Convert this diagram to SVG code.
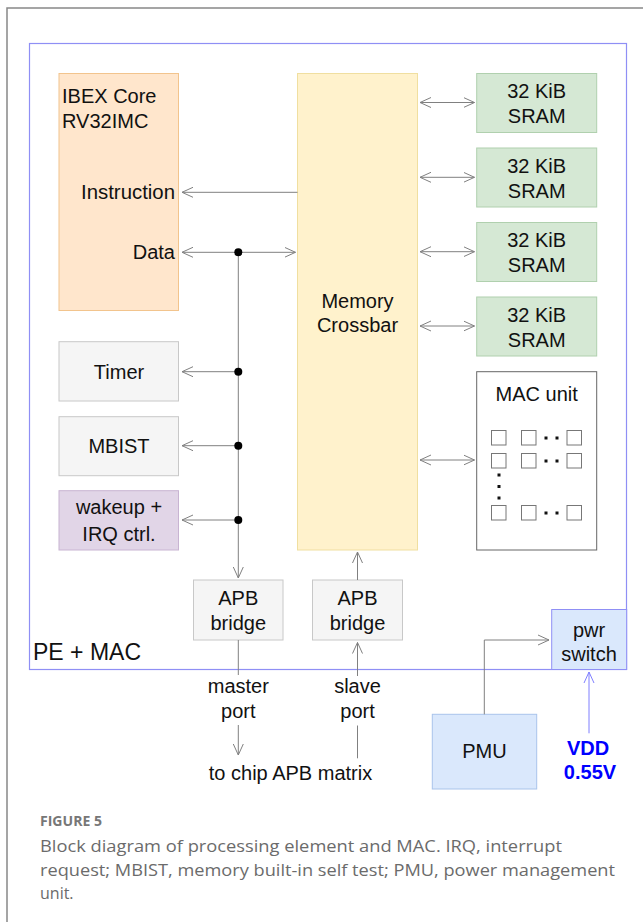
<svg xmlns="http://www.w3.org/2000/svg" width="643" height="922" viewBox="0 0 643 922">
<style>
text{font-family:"Liberation Sans",Arial,sans-serif;font-size:20px;fill:#111}
.c{text-anchor:middle}
.r{text-anchor:end}
.ln{stroke:#808080;stroke-width:1;fill:none}
.bl{stroke:#7f7fff;stroke-width:1;fill:none}
.cap{font-family:"Open Sans","Liberation Sans",sans-serif;font-size:16px;fill:#6b6b6b}
.sq{fill:#fff;stroke:#777;stroke-width:1}
</style>
<defs>
<marker id="a" markerUnits="userSpaceOnUse" markerWidth="14" markerHeight="14" refX="11" refY="6" orient="auto-start-reverse" viewBox="0 0 14 12">
<path d="M0,1 L11,6 L0,11" fill="none" stroke="#808080" stroke-width="1"/>
</marker>
<marker id="ab" markerUnits="userSpaceOnUse" markerWidth="14" markerHeight="14" refX="11" refY="6" orient="auto-start-reverse" viewBox="0 0 14 12">
<path d="M0,1 L11,6 L0,11" fill="none" stroke="#7f7fff" stroke-width="1"/>
</marker>
</defs>
<rect width="643" height="922" fill="#fff"/>
<rect x="7" y="8" width="700" height="1000" fill="none" stroke="#888" stroke-width="1.5"/>
<g id="pe-mac">
<rect x="29.5" y="43.5" width="597" height="626" fill="none" stroke="#8f8ff5" stroke-width="1.2"/>
<text x="33" y="660" style="font-size:23px">PE + MAC</text>
</g>
<g id="ibex">
<rect x="59" y="73.5" width="119.5" height="237" fill="#ffe6cc" stroke="#f2c48d"/>
<text x="62" y="103">IBEX Core</text>
<text x="62" y="128">RV32IMC</text>
<text x="175" y="199" class="r" textLength="94" lengthAdjust="spacingAndGlyphs">Instruction</text>
<text x="175" y="259" class="r">Data</text>
</g>
<g id="crossbar">
<rect x="297.5" y="73.5" width="120" height="476.5" fill="#fff2cc" stroke="#f0dfa0"/>
<text x="357.5" y="308" class="c">Memory</text>
<text x="357.5" y="332" class="c">Crossbar</text>
</g>
<g id="sram1"><rect x="476.7" y="73.5" width="120" height="59" fill="#d5e8d4" stroke="#b0d0ae"/><text x="536.7" y="98" class="c">32 KiB</text><text x="536.7" y="123" class="c">SRAM</text></g>
<g id="sram2"><rect x="476.7" y="148" width="120" height="59" fill="#d5e8d4" stroke="#b0d0ae"/><text x="536.7" y="172.5" class="c">32 KiB</text><text x="536.7" y="197.5" class="c">SRAM</text></g>
<g id="sram3"><rect x="476.7" y="222.5" width="120" height="59" fill="#d5e8d4" stroke="#b0d0ae"/><text x="536.7" y="247" class="c">32 KiB</text><text x="536.7" y="272" class="c">SRAM</text></g>
<g id="sram4"><rect x="476.7" y="297" width="120" height="59" fill="#d5e8d4" stroke="#b0d0ae"/><text x="536.7" y="321.5" class="c">32 KiB</text><text x="536.7" y="346.5" class="c">SRAM</text></g>
<g id="timer"><rect x="59" y="341.7" width="119.5" height="59.3" fill="#f5f5f5" stroke="#c8c8c8"/><text x="119" y="379" class="c">Timer</text></g>
<g id="mbist"><rect x="59" y="416.7" width="119.5" height="59" fill="#f5f5f5" stroke="#c8c8c8"/><text x="119" y="453" class="c">MBIST</text></g>
<g id="wakeup"><rect x="59" y="490.7" width="119.5" height="59.3" fill="#e1d5e7" stroke="#c8b4d2"/><text x="119" y="514" class="c">wakeup +</text><text x="119" y="540.5" class="c">IRQ ctrl.</text></g>
<g id="mac">
<rect x="476.7" y="371.7" width="120" height="178.3" fill="#fff" stroke="#666"/>
<text x="536.7" y="400.5" class="c">MAC unit</text>
<rect class="sq" x="491.5" y="430.5" width="14.5" height="14.5"/><rect class="sq" x="521.5" y="430.5" width="14.5" height="14.5"/><rect class="sq" x="567" y="430.5" width="14.5" height="14.5"/>
<rect class="sq" x="491.5" y="453.5" width="14.5" height="14.5"/><rect class="sq" x="521.5" y="453.5" width="14.5" height="14.5"/><rect class="sq" x="567" y="453.5" width="14.5" height="14.5"/>
<rect class="sq" x="491.5" y="505.5" width="14.5" height="14.5"/><rect class="sq" x="521.5" y="505.5" width="14.5" height="14.5"/><rect class="sq" x="567" y="505.5" width="14.5" height="14.5"/>
<g fill="#111">
<rect x="544.5" y="436.5" width="3" height="3"/><rect x="555.5" y="436.5" width="3" height="3"/>
<rect x="544.5" y="459.5" width="3" height="3"/><rect x="555.5" y="459.5" width="3" height="3"/>
<rect x="544.5" y="511.5" width="3" height="3"/><rect x="555.5" y="511.5" width="3" height="3"/>
<rect x="497.5" y="473.5" width="3" height="3"/><rect x="497.5" y="485" width="3" height="3"/><rect x="497.5" y="496.5" width="3" height="3"/>
</g>
</g>
<g id="apb1"><rect x="193.5" y="580" width="89.5" height="60" fill="#f5f5f5" stroke="#c8c8c8"/><text x="238.3" y="605" class="c">APB</text><text x="238.3" y="630" class="c">bridge</text></g>
<g id="apb2"><rect x="312.5" y="580" width="90" height="60" fill="#f5f5f5" stroke="#c8c8c8"/><text x="357.5" y="605" class="c">APB</text><text x="357.5" y="630" class="c">bridge</text></g>
<g id="pwr"><rect x="551.7" y="609.5" width="75" height="60" fill="#dae8fc" stroke="#8f8ff5"/><text x="589" y="636.5" class="c">pwr</text><text x="589" y="660.5" class="c">switch</text></g>
<g id="pmu"><rect x="432.3" y="714.3" width="104.4" height="74.7" fill="#dae8fc" stroke="#a9c4eb"/><text x="484.5" y="758" class="c">PMU</text></g>
<g id="labels">
<text x="238.3" y="693" class="c">master</text><text x="238.3" y="718" class="c">port</text>
<text x="357.5" y="693" class="c">slave</text><text x="357.5" y="718" class="c">port</text>
<text x="290.5" y="780" class="c">to chip APB matrix</text>
<text x="588" y="755" class="c" style="font-weight:bold;fill:#0000ff">VDD</text>
<text x="590" y="778.5" class="c" style="font-weight:bold;fill:#0000ff">0.55V</text>
</g>
<g id="connectors">
<line class="ln" x1="297.5" y1="192.3" x2="182" y2="192.3" marker-end="url(#a)"/>
<line class="ln" x1="182" y1="252.3" x2="295.5" y2="252.3" marker-start="url(#a)" marker-end="url(#a)"/>
<line class="ln" x1="238.3" y1="252.3" x2="238.3" y2="578" marker-end="url(#a)"/>
<line class="ln" x1="238.3" y1="371.7" x2="182" y2="371.7" marker-end="url(#a)"/>
<line class="ln" x1="238.3" y1="445.7" x2="182" y2="445.7" marker-end="url(#a)"/>
<line class="ln" x1="238.3" y1="520" x2="182" y2="520" marker-end="url(#a)"/>
<g fill="#000"><circle cx="238.3" cy="252.3" r="4"/><circle cx="238.3" cy="371.7" r="4"/><circle cx="238.3" cy="445.7" r="4"/><circle cx="238.3" cy="520" r="4"/></g>
<line class="ln" x1="420" y1="102.5" x2="474.5" y2="102.5" marker-start="url(#a)" marker-end="url(#a)"/>
<line class="ln" x1="420" y1="177.3" x2="474.5" y2="177.3" marker-start="url(#a)" marker-end="url(#a)"/>
<line class="ln" x1="420" y1="251.7" x2="474.5" y2="251.7" marker-start="url(#a)" marker-end="url(#a)"/>
<line class="ln" x1="420" y1="326" x2="474.5" y2="326" marker-start="url(#a)" marker-end="url(#a)"/>
<line class="ln" x1="420" y1="460" x2="474.5" y2="460" marker-start="url(#a)" marker-end="url(#a)"/>
<line class="ln" x1="238.3" y1="640" x2="238.3" y2="675"/>
<line class="ln" x1="238.3" y1="725" x2="238.3" y2="755" marker-end="url(#a)"/>
<line class="ln" x1="357.5" y1="580" x2="357.5" y2="552" marker-end="url(#a)"/>
<line class="ln" x1="357.5" y1="676" x2="357.5" y2="642.5" marker-end="url(#a)"/>
<line class="ln" x1="357.5" y1="758.3" x2="357.5" y2="725.5"/>
<polyline class="ln" points="484.3,714.3 484.3,640 549,640" marker-end="url(#a)"/>
<line class="bl" x1="589" y1="733.3" x2="589" y2="672" marker-end="url(#ab)"/>
</g>
<g id="caption">
<text x="40" y="826" style="font-family:'Open Sans','Liberation Sans',sans-serif;font-size:14px;font-weight:bold;fill:#777" textLength="62" lengthAdjust="spacingAndGlyphs">FIGURE 5</text>
<text x="40" y="852" class="cap" textLength="522" lengthAdjust="spacingAndGlyphs">Block diagram of processing element and MAC. IRQ, interrupt</text>
<text x="40" y="876" class="cap" textLength="575" lengthAdjust="spacingAndGlyphs">request; MBIST, memory built-in self test; PMU, power management</text>
<text x="40" y="899" class="cap">unit.</text>
</g>
</svg>
